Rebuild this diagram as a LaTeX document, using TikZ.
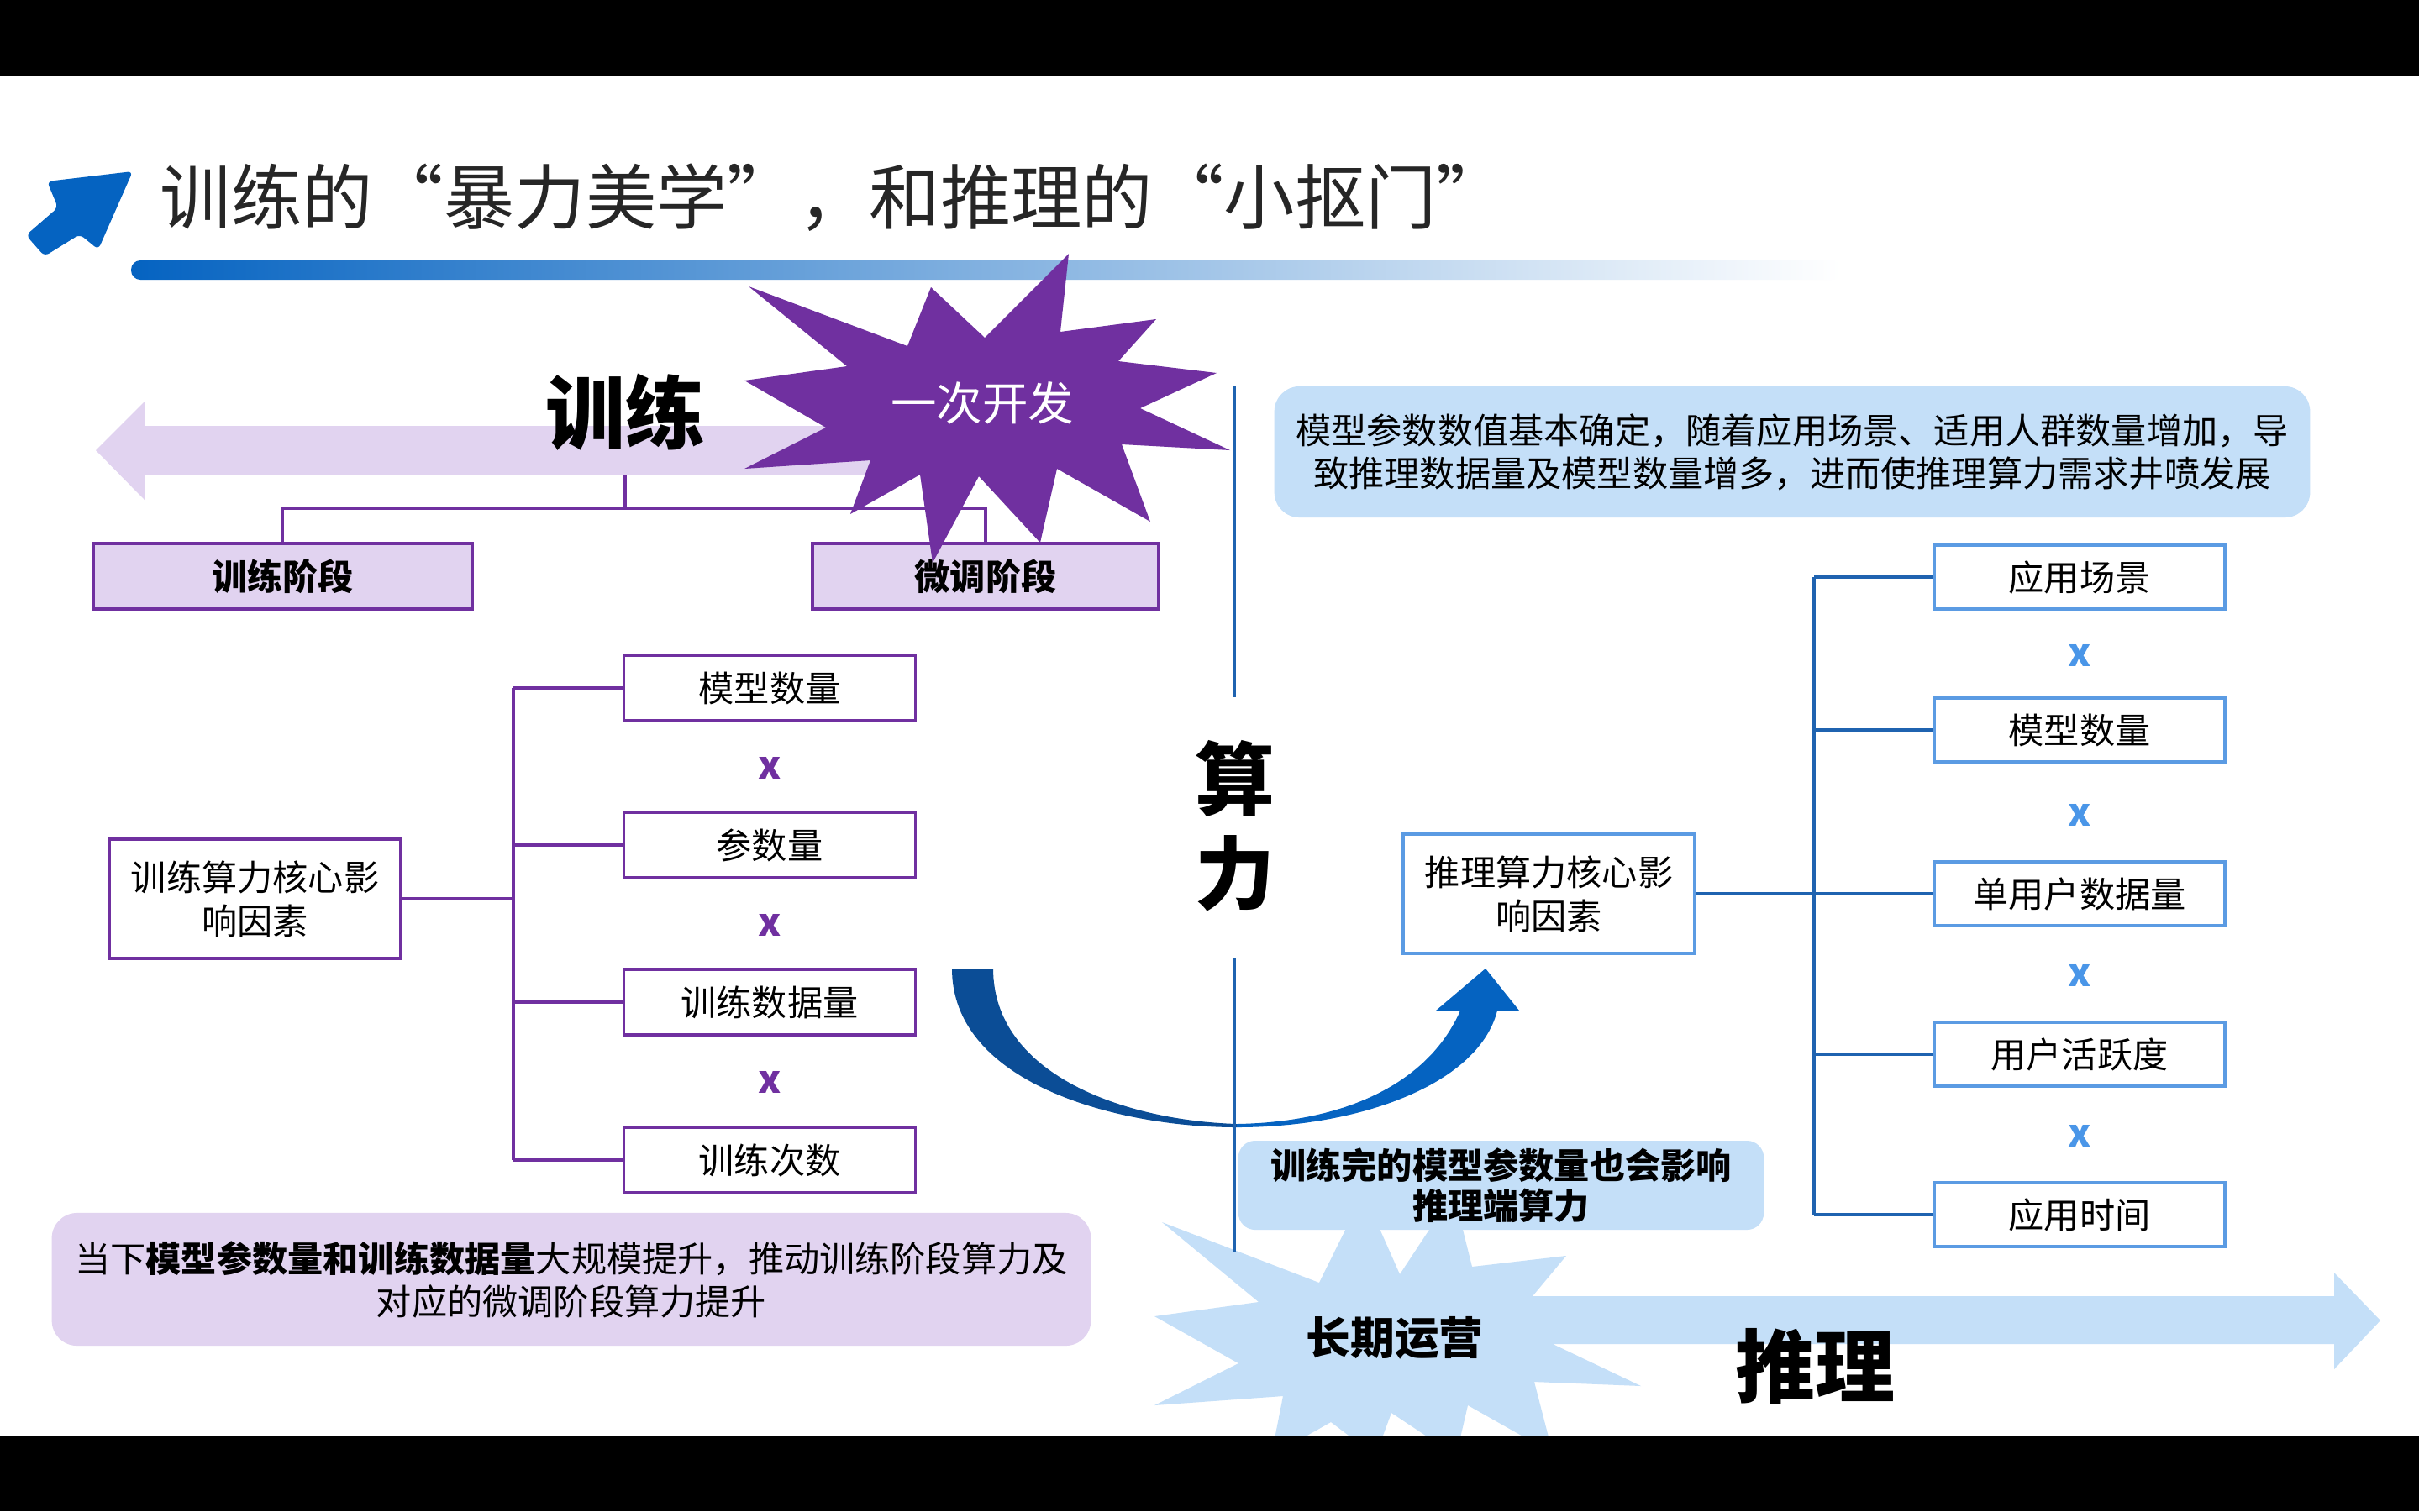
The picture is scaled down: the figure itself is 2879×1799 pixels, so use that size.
\documentclass[tikz,border=0pt]{standalone}
\usepackage{fontspec}
\setmainfont{Noto Sans CJK SC}
\usetikzlibrary{calc}
\definecolor{tpurple}{HTML}{7030A0}
\definecolor{lav}{HTML}{E1D3F0}
\definecolor{lblue}{HTML}{C4DFF8}
\definecolor{gblue}{HTML}{0563C1}
\definecolor{bline}{HTML}{1F63B0}
\definecolor{bborder}{HTML}{5B9BE3}
\definecolor{xblue}{HTML}{4A96E8}
\definecolor{adark}{HTML}{0B4D96}
\definecolor{abright}{HTML}{0563C1}
\definecolor{tgray}{HTML}{262626}
\newcommand{\fsz}[2]{\fontsize{#1pt}{#2pt}\selectfont}
\begin{document}
\begin{tikzpicture}[x=0.01cm,y=-0.01cm,
  pline/.style={draw=tpurple, line width=0.9pt},
  blin/.style={draw=bline, line width=0.9pt},
  stagebox/.style={draw=tpurple, line width=1.2pt, fill=lav, minimum height=0.78cm, inner sep=0pt, font=\bfseries\fsz{12}{14}},
  pbox/.style={draw=tpurple, line width=1pt, fill=white, minimum width=3.47cm, minimum height=0.78cm, inner sep=0pt, font=\fsz{12}{14}},
  bbox/.style={draw=bborder, line width=1pt, fill=white, minimum width=3.46cm, minimum height=0.76cm, inner sep=0pt, font=\fsz{12}{14}},
  rootbox/.style={minimum width=3.47cm, minimum height=1.42cm, inner sep=0pt, align=center, line width=1pt, fill=white, font=\fsz{12}{14.8}},
  pmark/.style={text=tpurple, font=\bfseries\fsz{13}{15}, inner sep=0pt},
  bmark/.style={text=xblue, font=\bfseries\fsz{13}{15}, inner sep=0pt},
  bigword/.style={font=\bfseries\fsz{27}{32}, align=center, inner sep=0pt},
  note/.style={rounded corners=0.3cm, align=center, inner sep=0pt, font=\fsz{12}{14.5}}
]
% background and bands
\fill[white] (0,0) rectangle (2879,1799);
\fill[black] (0,0) rectangle (2879,90);

% gradient bar
\shade[left color=gblue, right color=white, rounded corners=0.11cm] (156,310) rectangle (2190,333);

% title icon
\fill[gblue, rounded corners=0.06cm] (158,204) -- (56,216) -- (69,247) -- (31,280) -- (53,305) -- (95,279) -- (117,297) -- cycle;
\node[anchor=west, text=tgray, font=\fsz{24}{28}, inner sep=0pt] (title) at (190,235) {训练的“暴力美学”，和推理的“小抠门”};

% training arrow (left)
\fill[lav] (1100,507) -- (172,507) -- (172,478) -- (114,536) -- (172,595) -- (172,565) -- (1100,565) -- cycle;
\node[bigword] (train) at (744,491) {训练};

% stage boxes and connectors
\coordinate (ttop) at (744,565);
\coordinate (tj) at (744,605);
\node[stagebox, minimum width=4.51cm] (s1) at (336.5,686) {训练阶段};
\node[stagebox, minimum width=4.12cm] (s2) at (1173,686) {微调阶段};
\draw[pline] (ttop) -- (tj);
\draw[pline] (s1.north) |- (tj) -| (s2.north);

% purple star
\fill[tpurple] (1272,302) -- (1262,395) -- (1376,380) -- (1331,430) -- (1448,444) -- (1357,486) -- (1464,536) -- (1335,529) -- (1369,621) -- (1258,558) -- (1238,646) -- (1165,567) -- (1110,670) -- (1095,565) -- (1012,612) -- (1036,548) -- (886,558) -- (983,509) -- (886,453) -- (1008,436) -- (891,341) -- (1080,412) -- (1108,342) -- (1172,402) -- cycle;
\node[text=white, font=\fsz{15.5}{18}, inner sep=0pt] (dev) at (1169,480) {一次开发};

% top-right note
\node[note, fill=lblue, minimum width=12.32cm, minimum height=1.56cm] (note1) at (2133,538) {模型参数数值基本确定，随着应用场景、适用人群数量增加，导\\致推理数据量及模型数量增多，进而使推理算力需求井喷发展};

% left tree
\node[rootbox, draw=tpurple] (lroot) at (303.5,1070) {训练算力核心影\\响因素};
\node[pbox] (lb1) at (916,819) {模型数量};
\node[pbox] (lb2) at (916,1006) {参数量};
\node[pbox] (lb3) at (916,1193) {训练数据量};
\node[pbox] (lb4) at (916,1381) {训练次数};
\node[pmark] (lx1) at (916,914) {x};
\node[pmark] (lx2) at (916,1101) {x};
\node[pmark] (lx3) at (916,1288) {x};
\coordinate (lt) at (611,1070);
\draw[pline] (lroot.east) -- (lt);
\draw[pline] (lt |- lb1.west) -- (lt |- lb4.west);
\draw[pline] (lt |- lb1.west) -- (lb1.west);
\draw[pline] (lt |- lb2.west) -- (lb2.west);
\draw[pline] (lt |- lb3.west) -- (lb3.west);
\draw[pline] (lt |- lb4.west) -- (lb4.west);

% bottom-left note
\node[note, fill=lav, minimum width=12.36cm, minimum height=1.58cm] (note2) at (680,1523) {当下\textbf{模型参数量和训练数据量}大规模提升，推动训练阶段算力及\\对应的微调阶段算力提升};

% right tree
\node[rootbox, draw=bborder] (rroot) at (1843.5,1064) {推理算力核心影\\响因素};
\node[bbox] (rb1) at (2475,687) {应用场景};
\node[bbox] (rb2) at (2475,869) {模型数量};
\node[bbox] (rb3) at (2475,1064) {单用户数据量};
\node[bbox] (rb4) at (2475,1255) {用户活跃度};
\node[bbox] (rb5) at (2475,1446) {应用时间};
\node[bmark] (rx1) at (2475,780) {x};
\node[bmark] (rx2) at (2475,970) {x};
\node[bmark] (rx3) at (2475,1161) {x};
\node[bmark] (rx4) at (2475,1352) {x};
\coordinate (rt) at (2159,1064);
\draw[blin] (rroot.east) -- (rb3.west);
\draw[blin] (rt |- rb1.west) -- (rt |- rb5.west);
\draw[blin] (rt |- rb1.west) -- (rb1.west);
\draw[blin] (rt |- rb2.west) -- (rb2.west);
\draw[blin] (rt |- rb4.west) -- (rb4.west);
\draw[blin] (rt |- rb5.west) -- (rb5.west);

% curved arrow
\fill[adark] (1133,1153) .. controls (1133,1290) and (1330,1342) .. (1472,1342) -- (1472,1338) .. controls (1340,1334) and (1182,1280) .. (1182,1153) -- cycle;
\fill[abright] (1472,1342) .. controls (1620,1342) and (1760,1290) .. (1782,1203) -- (1808,1203) -- (1768,1153) -- (1709,1203) -- (1738,1203) .. controls (1700,1290) and (1600,1336) .. (1472,1338) -- cycle;

% light-blue star and inference arrow
\fill[lblue] (1383,1455) -- (1570,1527) -- (1623,1420) -- (1666,1517) -- (1730,1420) -- (1752,1508) -- (1864,1495) -- (1824,1543) -- (2778,1543) -- (2778,1515) -- (2833,1572) -- (2778,1630) -- (2778,1600) -- (1848,1600) -- (1953,1650) -- (1826,1645) -- (1848,1730) -- (1747,1673) -- (1733,1733) -- (1656,1682) -- (1637,1733) -- (1584,1693) -- (1513,1733) -- (1527,1662) -- (1374,1673) -- (1474,1623) -- (1374,1567) -- (1498,1550) -- cycle;
\node[note, fill=lblue, rounded corners=0.2cm, minimum width=6.25cm, minimum height=1.06cm, font=\bfseries\fsz{12}{13.7}] (note3) at (1786.5,1411) {训练完的模型参数量也会影响\\推理端算力};
\node[font=\bfseries\fsz{15}{18}, inner sep=0pt] (ops) at (1660,1593) {长期运营};
\node[bigword] (infer) at (2160,1627) {推理};

% vertical axis with label
\coordinate (v1) at (1469,459);
\coordinate (v2) at (1469,830);
\coordinate (v3) at (1469,1141);
\coordinate (v4) at (1469,1490);
\draw[blin, line width=1pt] (v1) -- (v2);
\draw[blin, line width=1pt] (v3) -- (v4);
\node[bigword, font=\bfseries\fsz{27}{32}] (comp) at (1470,983) {算\\力};

% bottom band
\fill[black] (0,1710) rectangle (2879,1799);
\end{tikzpicture}
\end{document}
